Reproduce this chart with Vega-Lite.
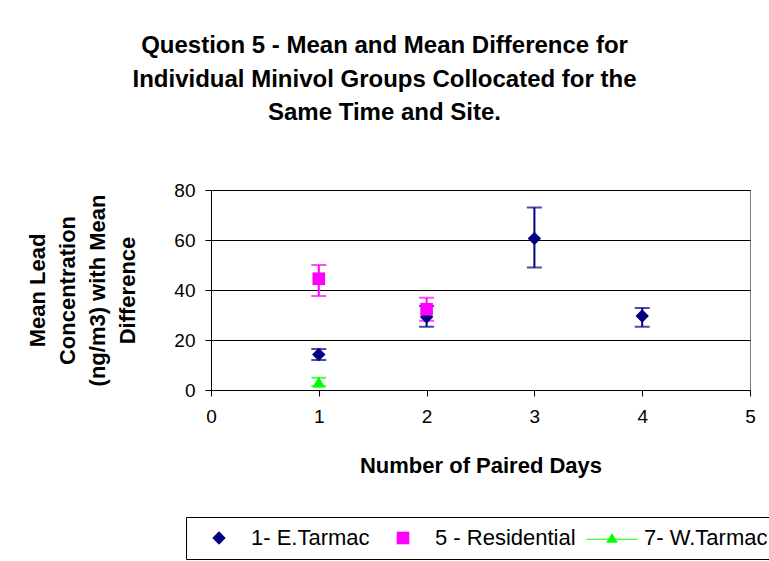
{
  "$schema": "https://vega.github.io/schema/vega-lite/v6.json",
  "width": 539,
  "height": 200,
  "autosize": {"type": "none"},
  "padding": {"left": 211, "top": 190, "right": 19, "bottom": 171},
  "background": "white",
  "title": {
    "text": ["Question 5 - Mean and Mean Difference for", "Individual Minivol Groups Collocated for the", "Same Time and Site."],
    "font": "Liberation Sans",
    "fontSize": 24,
    "fontWeight": "bold",
    "lineHeight": 33.5,
    "color": "black",
    "anchor": "middle",
    "dx": -96,
    "offset": 56
  },
  "config": {
    "view": {"stroke": "#808080", "strokeWidth": 1},
    "axis": {
      "labelFont": "Liberation Sans",
      "labelFontSize": 19,
      "labelColor": "black",
      "titleFont": "Liberation Sans",
      "titleFontSize": 22,
      "titleFontWeight": "bold",
      "titleColor": "black",
      "domainColor": "black",
      "tickColor": "black",
      "tickSize": 6,
      "labelFlush": false,
      "labelOverlap": false
    }
  },
  "data": {
    "values": [
      {"series": "1- E.Tarmac", "days": 1, "mean": 14.2, "low": 12.0, "high": 16.4},
      {"series": "1- E.Tarmac", "days": 2, "mean": 29.2, "low": 25.3, "high": 33.6},
      {"series": "1- E.Tarmac", "days": 3, "mean": 60.6, "low": 49.0, "high": 73.0},
      {"series": "1- E.Tarmac", "days": 4, "mean": 29.6, "low": 25.3, "high": 32.8},
      {"series": "5 - Residential", "days": 1, "mean": 44.5, "low": 37.6, "high": 50.0},
      {"series": "5 - Residential", "days": 2, "mean": 32.3, "low": 27.7, "high": 36.9},
      {"series": "7- W.Tarmac", "days": 1, "mean": 3.2, "low": 1.5, "high": 4.9}
    ]
  },
  "encoding": {
    "x": {
      "field": "days",
      "type": "quantitative",
      "scale": {"domain": [0, 5], "nice": false, "zero": false},
      "axis": {
        "values": [0, 1, 2, 3, 4, 5],
        "grid": false,
        "labelPadding": 11,
        "title": "Number of Paired Days",
        "titleX": 269.5,
        "titleY": 75,
        "titleAlign": "center",
        "titleBaseline": "middle"
      }
    },
    "color": {
      "field": "series",
      "type": "nominal",
      "scale": {"domain": ["1- E.Tarmac", "5 - Residential", "7- W.Tarmac"], "range": ["#000080", "#FF00FF", "#00FF00"]},
      "legend": {
        "title": null,
        "orient": "none",
        "direction": "horizontal",
        "legendX": -25,
        "legendY": 327,
        "strokeColor": "black",
        "fillColor": "white",
        "padding": 10,
        "symbolOffset": 12,
        "labelOffset": 21,
        "columnPadding": 10,
        "labelFont": "Liberation Sans",
        "labelFontSize": 22,
        "labelColor": "black",
        "symbolSize": 140,
        "symbolStrokeWidth": 0,
        "symbolOpacity": 1
      }
    }
  },
  "layer": [
    {
      "mark": {"type": "rule", "strokeWidth": 2},
      "encoding": {
        "y": {
          "field": "low",
          "type": "quantitative",
          "scale": {"domain": [0, 80], "nice": false},
          "axis": {
            "values": [0, 20, 40, 60, 80],
            "grid": true,
            "gridColor": "black",
            "gridOpacity": 1,
            "labelPadding": 10,
            "title": ["Mean  Lead", "Concentration", "(ng/m3) with Mean", "Difference"],
            "titleAngle": 270,
            "titleX": -174,
            "titleY": 100,
            "titleAlign": "center",
            "titleBaseline": "middle",
            "titleLineHeight": 30
          }
        },
        "y2": {"field": "high"}
      }
    },
    {
      "mark": {"type": "tick", "orient": "horizontal", "size": 15, "thickness": 2},
      "encoding": {"y": {"field": "low", "type": "quantitative"}}
    },
    {
      "mark": {"type": "tick", "orient": "horizontal", "size": 15, "thickness": 2},
      "encoding": {"y": {"field": "high", "type": "quantitative"}}
    },
    {
      "transform": [{"filter": "datum.series !== '7- W.Tarmac'"}],
      "mark": {"type": "point", "filled": true, "opacity": 1},
      "encoding": {
        "y": {"field": "mean", "type": "quantitative"},
        "shape": {
          "field": "series",
          "type": "nominal",
          "scale": {"domain": ["1- E.Tarmac", "5 - Residential", "7- W.Tarmac"], "range": ["diamond", "square", "M-4.3,0.12H4.3V0.3H-4.3ZM0,-0.8L1,0.8L-1,0.8Z"]}
        },
        "size": {
          "field": "series",
          "type": "nominal",
          "scale": {"domain": ["1- E.Tarmac", "5 - Residential", "7- W.Tarmac"], "range": [180, 140, 160]},
          "legend": null
        }
      }
    },
    {
      "transform": [{"filter": "datum.series === '7- W.Tarmac'"}],
      "mark": {"type": "point", "filled": true, "opacity": 1, "shape": "triangle-up", "size": 160},
      "encoding": {
        "y": {"field": "mean", "type": "quantitative"}
      }
    }
  ]
}
